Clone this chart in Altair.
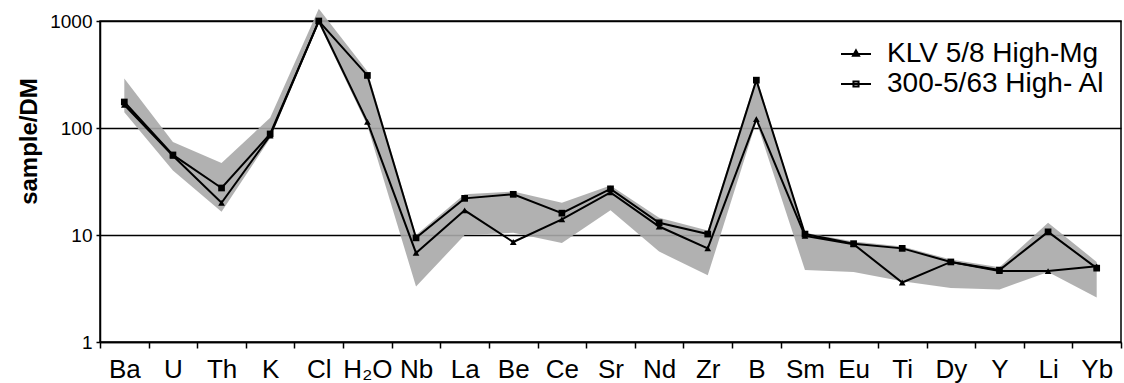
import altair as alt
import pandas as pd

# Trace elements, normalised to depleted mantle (DM)
elements = ["Ba", "U", "Th", "K", "Cl", "H₂O", "Nb", "La", "Be", "Ce", "Sr",
            "Nd", "Zr", "B", "Sm", "Eu", "Ti", "Dy", "Y", "Li", "Yb"]

series_names = ["KLV 5/8 High-Mg", "300-5/63 High- Al"]

klv_high_mg = [165, 55, 20, 85, 1000, 114, 6.8, 17, 8.6, 14, 25,
               12, 7.5, 121, 9.8, 8.2, 3.6, 5.6, 4.6, 4.6, 5.1]
hi_al_300 = [175, 56, 27.5, 88, 1000, 310, 9.4, 22, 24, 16, 27,
             13, 10.2, 280, 10.2, 8.3, 7.5, 5.6, 4.7, 10.7, 4.9]

# Envelope of the wider sample suite (shaded field)
field_low = [140, 40, 16.5, 80, 950, 105, 3.3, 10, 10.5, 8.4, 17,
             7.0, 4.2, 115, 4.7, 4.5, 3.7, 3.2, 3.1, 4.5, 2.6]
field_high = [290, 74, 47, 125, 1300, 340, 10, 24, 25.5, 20, 29,
              14.5, 11, 300, 10.5, 8.7, 7.8, 5.9, 5.0, 13, 5.6]

# legend glyphs: short line with the series marker on it
legend_paths = [
    "M-1,0H1M0,-0.24L0.2,0.12L-0.2,0.12Z",
    "M-1,0H1M-0.17,-0.17H0.17V0.17H-0.17Z",
]
marker_shapes = ["triangle-up", "square"]

FONT = "Liberation Sans"

rows = []
for name, vals in zip(series_names, [klv_high_mg, hi_al_300]):
    for i, (el, v) in enumerate(zip(elements, vals)):
        rows.append({"element": el, "idx": i, "value": v, "series": name})
lines_df = pd.DataFrame(rows)

field_df = pd.DataFrame({"element": elements, "idx": list(range(len(elements))),
                         "low": field_low, "high": field_high})

x_enc = alt.X(
    "element:N",
    sort=elements,
    scale=alt.Scale(type="band", paddingInner=0, paddingOuter=0),
    bandPosition=0.5,
    axis=alt.Axis(
        title=None, labelAngle=0, labelFont=FONT, labelFontSize=26,
        labelColor="black", labelPadding=8, tickBand="extent", tickSize=6,
        tickColor="black", tickWidth=1.5, domainColor="black", domainWidth=1.5,
        grid=False,
    ),
)

y_scale = alt.Scale(type="log", domain=[1, 1000])
y_axis = alt.Axis(
    values=[1, 10, 100, 1000], format="d", labelFont=FONT, labelFontSize=19,
    labelColor="black", labelPadding=4, tickSize=4, tickColor="black",
    tickWidth=1.5, domainColor="black", domainWidth=1.5,
    grid=True, gridColor="black", gridWidth=1.6,
    title="sample/DM", titleFont=FONT, titleFontSize=24, titleFontWeight="bold",
    titleColor="black", titleAngle=-90, titleX=-64, titleY=120,
    titleAlign="center", titleBaseline="alphabetic",
)

field = alt.Chart(field_df).mark_area(color="#a8a8a8", opacity=0.9).encode(
    x=x_enc,
    y=alt.Y("low:Q", scale=y_scale, axis=y_axis),
    y2="high:Q",
)

lines = alt.Chart(lines_df).mark_line(color="black", strokeWidth=2).encode(
    x=x_enc,
    y=alt.Y("value:Q", scale=y_scale),
    detail="series:N",
    order="idx:Q",
)

points = alt.Chart(lines_df).mark_point(filled=True, color="black", size=45, opacity=1).encode(
    x=x_enc,
    y=alt.Y("value:Q", scale=y_scale),
    shape=alt.Shape("series:N",
                    scale=alt.Scale(domain=series_names, range=marker_shapes),
                    legend=None),
)

legend_layer = alt.Chart(lines_df).transform_filter("false").mark_point(
    filled=False, color="black", strokeWidth=2, opacity=1
).encode(
    x=x_enc,
    y=alt.Y("value:Q", scale=y_scale),
    shape=alt.Shape(
        "series:N",
        scale=alt.Scale(domain=series_names, range=legend_paths),
        legend=alt.Legend(
            title=None, orient="none", legendX=740, legendY=17, padding=0,
            labelFont=FONT, labelFontSize=28, labelColor="black",
            labelOffset=15, labelLimit=0, symbolSize=900, rowPadding=0,
            symbolStrokeColor="black", symbolStrokeWidth=2,
            symbolFillColor="black",
        ),
    ),
)

chart = (
    alt.layer(field, lines, points, legend_layer)
    .resolve_scale(shape="independent")
    .properties(
        width=1021, height=321,
        padding={"left": 100, "top": 21, "right": 3, "bottom": 41},
        autosize=alt.AutoSizeParams(type="none"),
        background="white",
    )
    .configure_view(stroke="black", strokeWidth=1.5)
)

chart.save("out.html", embed_options={"renderer": "svg", "actions": False})
